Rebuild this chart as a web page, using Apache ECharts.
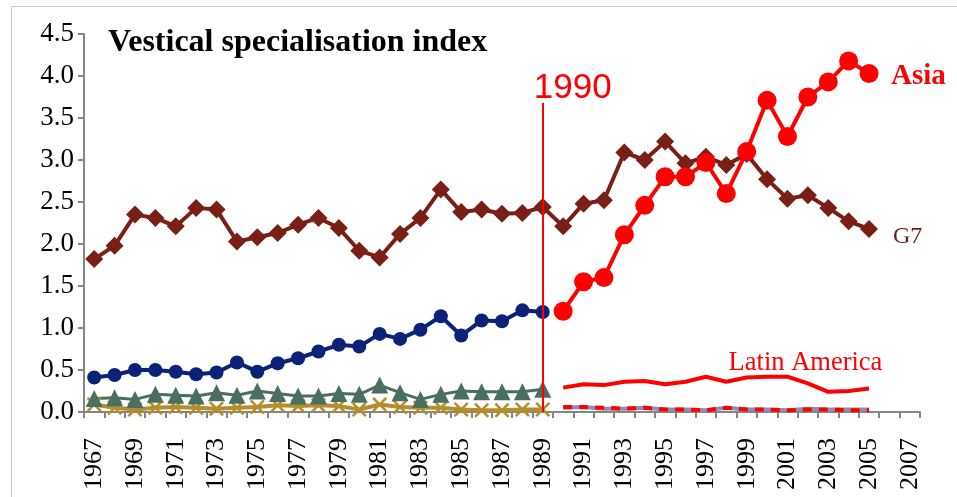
<!DOCTYPE html>
<html>
<head>
<meta charset="utf-8">
<script src="https://cdn.jsdelivr.net/npm/echarts@6/dist/echarts.min.js"></script>
<style>
html,body{margin:0;padding:0;background:#fff;}
#c{width:957px;height:497px;}
</style>
</head>
<body>
<div id="c"></div>
<script>
var years = ['1967','1968','1969','1970','1971','1972','1973','1974','1975','1976','1977','1978','1979','1980','1981','1982','1983','1984','1985','1986','1987','1988','1989','1990','1991','1992','1993','1994','1995','1996','1997','1998','1999','2000','2001','2002','2003','2004','2005','2006','2007'];
var yTicks = [0,0.5,1,1.5,2,2.5,3,3.5,4,4.5];

// 1967-2005
var g7 = [1.82,1.98,2.35,2.31,2.21,2.43,2.41,2.03,2.08,2.13,2.23,2.31,2.19,1.92,1.84,2.12,2.31,2.65,2.38,2.41,2.36,2.37,2.44,
          2.21,2.48,2.52,3.09,3.00,3.22,2.96,3.04,2.94,3.07,2.77,2.54,2.58,2.43,2.27,2.18];
// 1967-1989
var blue = [0.41,0.44,0.50,0.50,0.48,0.45,0.47,0.59,0.48,0.58,0.64,0.72,0.80,0.78,0.93,0.87,0.98,1.14,0.91,1.09,1.08,1.21,1.19];
var green = [0.16,0.17,0.15,0.21,0.20,0.19,0.23,0.20,0.25,0.22,0.19,0.19,0.22,0.21,0.32,0.23,0.15,0.21,0.25,0.24,0.24,0.24,0.27];
var gold = [0.09,0.05,0.03,0.05,0.06,0.05,0.04,0.05,0.06,0.08,0.07,0.08,0.07,0.03,0.09,0.06,0.05,0.05,0.03,0.02,0.02,0.03,0.03];
// 1990-2005
var asia = [1.20,1.55,1.60,2.11,2.46,2.80,2.80,2.97,2.60,3.10,3.71,3.28,3.75,3.93,4.18,4.03];
var latam = [0.29,0.33,0.32,0.36,0.37,0.33,0.36,0.42,0.36,0.41,0.42,0.42,0.34,0.24,0.25,0.28];
var redDash = [0.06,0.06,0.05,0.04,0.05,0.03,0.03,0.02,0.05,0.03,0.03,0.02,0.03,0.03,0.02,0.02];
var grayLine = [0.05,0.06,0.04,0.04,0.05,0.03,0.03,0.02,0.05,0.03,0.03,0.02,0.04,0.03,0.03,0.03];

function place(arr, startYear) {
  var out = years.map(function(){ return null; });
  var s = years.indexOf(String(startYear));
  for (var i = 0; i < arr.length; i++) out[s + i] = arr[i];
  return out;
}

var serif = '"Liberation Serif", "Times New Roman", serif';
var xSym = 'path://M0,1.2 L1.2,0 L5,3.8 L8.8,0 L10,1.2 L6.2,5 L10,8.8 L8.8,10 L5,6.2 L1.2,10 L0,8.8 L3.8,5 Z';

var chart = echarts.init(document.getElementById('c'), null, {renderer:'canvas'});
chart.setOption({
  animation: false,
  backgroundColor: '#fff',
  title: {
    text: 'Vestical specialisation index',
    left: 108, top: 27, padding: 0,
    textStyle: {fontFamily: serif, fontWeight: 'bold', fontSize: 32, color: '#000'}
  },
  graphic: [{
    type: 'rect', left: 9, top: 4, silent: true,
    shape: {width: 960, height: 510},
    style: {fill: 'none', stroke: '#c8c8c8', lineWidth: 1}
  }],
  grid: {left: 84, right: 37, top: 34, bottom: 85, containLabel: false},
  xAxis: {
    type: 'category', data: years, boundaryGap: true,
    axisLine: {lineStyle: {color: '#868686', width: 2}},
    axisTick: {show: true, interval: 0, length: 6, lineStyle: {color: '#868686', width: 2}},
    axisLabel: {interval: 1, rotate: 90, margin: 26, fontFamily: serif, fontSize: 26, color: '#000'},
    splitLine: {show: false}
  },
  yAxis: {
    type: 'value', min: 0, max: 4.5, interval: 0.5,
    axisLine: {show: true, lineStyle: {color: '#868686', width: 2}},
    axisTick: {show: true, length: 6, lineStyle: {color: '#868686', width: 2}},
    axisLabel: {margin: 10, fontFamily: serif, fontSize: 27, color: '#000', formatter: function(v){ return v.toFixed(1); }},
    splitLine: {show: false}
  },
  series: [
    {
      name: 'Gold', type: 'line', data: place(gold, 1967),
      symbol: xSym, symbolSize: 15, showAllSymbol: true,
      lineStyle: {color: '#B48E2B', width: 4},
      itemStyle: {color: '#B48E2B'}
    },
    {
      name: 'Green', type: 'line', data: place(green, 1967),
      symbol: 'triangle', symbolSize: 17, showAllSymbol: true,
      lineStyle: {color: '#4A6E5F', width: 3},
      itemStyle: {color: '#4A6E5F'}
    },
    {
      name: 'Blue', type: 'line', data: place(blue, 1967),
      symbol: 'circle', symbolSize: 14, showAllSymbol: true,
      lineStyle: {color: '#0B2278', width: 4},
      itemStyle: {color: '#0B2278'}
    },
    {
      name: 'Gray', type: 'line', data: place(grayLine, 1990),
      symbol: 'none',
      lineStyle: {color: '#8A8DB6', width: 4}
    },
    {
      name: 'RedDash', type: 'line', data: place(redDash, 1990),
      symbol: 'none',
      lineStyle: {color: '#FF0000', width: 4, type: [9, 7]}
    },
    {
      name: 'Latin America', type: 'line', data: place(latam, 1990),
      symbol: 'none',
      lineStyle: {color: '#FF0000', width: 4},
      itemStyle: {color: '#FF0000'},
      markPoint: {
        symbol: 'circle', symbolSize: 0,
        data: [{coord: ['2001', 0.615], value: 'Latin America'}],
        label: {show: true, position: 'inside', offset: [18, 3], formatter: 'Latin America',
                fontFamily: serif, fontSize: 26.5, color: '#FF0000'}
      }
    },
    {
      name: 'G7', type: 'line', data: place(g7, 1967),
      symbol: 'diamond', symbolSize: 18, showAllSymbol: true,
      lineStyle: {color: '#7A1F16', width: 4},
      itemStyle: {color: '#7A1F16'},
      endLabel: {show: true, formatter: 'G7', distance: 24, offset: [0, 8],
                 fontFamily: serif, fontSize: 24, color: '#6B1A14'},
      markLine: {
        silent: true, symbol: ['none', 'none'],
        lineStyle: {color: '#FF0000', width: 2, type: 'solid'},
        label: {show: true, position: 'end', formatter: '1990', offset: [30, 8],
                fontFamily: '"Liberation Sans", Arial, sans-serif', fontSize: 35, color: '#FF0000'},
        data: [[{coord: ['1989', 0]}, {coord: ['1989', 3.68]}]]
      }
    },
    {
      name: 'Asia', type: 'line', data: place(asia, 1990),
      symbol: 'circle', symbolSize: 19, showAllSymbol: true,
      lineStyle: {color: '#FF0000', width: 4},
      itemStyle: {color: '#FF0000'},
      endLabel: {show: true, formatter: 'Asia', distance: 22, offset: [0, 3],
                 fontFamily: serif, fontWeight: 'bold', fontSize: 29, color: '#FF0000'}
    }
  ]
});
</script>
</body>
</html>
